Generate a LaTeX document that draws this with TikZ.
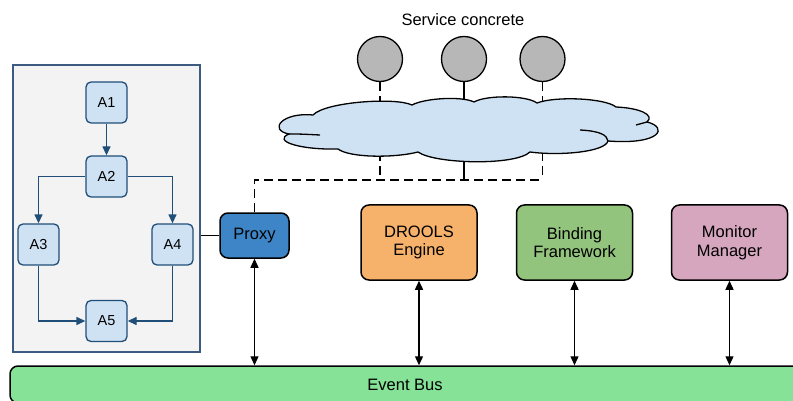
\documentclass[tikz,border=0pt]{standalone}
\usepackage{fontspec}
\setmainfont{Liberation Sans}
\usetikzlibrary{positioning,arrows.meta}
\definecolor{flowgray}{RGB}{243,243,243}
\definecolor{flowedge}{RGB}{61,90,128}
\definecolor{stepblue}{RGB}{207,226,243}
\definecolor{stepedge}{RGB}{31,78,121}
\definecolor{proxyblue}{RGB}{61,133,198}
\definecolor{droolsorange}{RGB}{246,178,107}
\definecolor{bindgreen}{RGB}{147,196,125}
\definecolor{monitorpink}{RGB}{213,166,189}
\definecolor{busgreen}{RGB}{134,226,150}
\definecolor{servgray}{RGB}{183,183,183}
\begin{document}
\begin{tikzpicture}[x=1pt, y=-1pt, font=\fontsize{16.5}{18.5}\selectfont]
      \tikzstyle{stepnode}=[draw=stepedge, fill=stepblue, line width=1.3pt, rounded corners=5pt, minimum size=41pt, inner sep=0pt, font=\fontsize{14.5}{16}\selectfont]
      \tikzstyle{stepedge}=[draw=stepedge, line width=1.3pt, -{Triangle[length=9pt,width=8pt]}]
      \tikzstyle{partnode}=[draw, line width=1.5pt, rounded corners=8pt, minimum width=116pt, minimum height=75pt, align=center, inner sep=0pt]
      \tikzstyle{busedge}=[line width=1.3pt, {Triangle[length=9pt,width=8pt]}-{Triangle[length=9pt,width=8pt]}]
      \tikzstyle{servnode}=[circle, draw, line width=1.3pt, fill=servgray, minimum size=45pt, inner sep=0pt]
      \tikzstyle{netline}=[line width=1.3pt, dash pattern=on 9pt off 5pt]
      \useasboundingbox (0,0) rectangle (793,401);
      % workflow
      \node[draw=flowedge, fill=flowgray, line width=1.3pt, minimum width=187pt, minimum height=287pt] (flow) at (106.5,208.5) {};
      \node[stepnode] (a1) at (106.5,102.5) {A1};
      \node[stepnode] (a2) at (106.5,176.5) {A2};
      \node[stepnode] (a3) at (38.5,244.5) {A3};
      \node[stepnode] (a4) at (172.5,244.5) {A4};
      \node[stepnode] (a5) at (106.5,321) {A5};
      \draw[stepedge] (a1) -- (a2);
      \draw[stepedge] (a2.west) -| (a3.north);
      \draw[stepedge] (a2.east) -| (a4.north);
      \draw[stepedge] (a3.south) |- (a5.west);
      \draw[stepedge] (a4.south) |- (a5.east);
      % components
      \node[partnode, fill=proxyblue, minimum width=69pt, minimum height=45pt] (proxy) at (254.5,235.5) {Proxy};
      \node[partnode, fill=droolsorange] (drools) at (419,242.5) {DROOLS\\Engine};
      \node[partnode, fill=bindgreen] (binding) at (574.5,242.5) {Binding\\Framework};
      \node[partnode, fill=monitorpink] (monitor) at (729.5,242.5) {Monitor\\Manager};
      \node[draw, line width=1.5pt, fill=busgreen, rounded corners=8pt, minimum width=790pt, minimum height=37pt] (bus) at (405,384.5) {Event Bus};
      \draw[line width=1.3pt] (proxy.west) -- (proxy.west -| flow.east);
      \foreach \part in {proxy,drools,binding,monitor}
        \draw[busedge] (\part.south) -- (\part.south |- bus.north);
      % services
      \node[servnode] (s1) at (380,59) {};
      \node[servnode] (s2) at (464,59) {};
      \node[servnode] (s3) at (542.5,59) {};
      \node (title) at (463,20) {Service concrete};
      \coordinate (link) at (542.5,180);
      \draw[netline] (s1.south) -- (s1 |- link);
      \draw[line width=1.3pt] (s2.south) -- (s2 |- link);
      \draw[netline] (s3.south) -- (link);
      \draw[netline] (proxy.north) |- (link);
      % cloud
      \draw[line width=1.3pt, fill=stepblue] (313,115)
        .. controls (325,102) and (395,97) .. (412,105)
        .. controls (425,98) and (462,96) .. (474,102)
        .. controls (486,95) and (526,95) .. (537,103)
        .. controls (555,96) and (605,98) .. (616,107)
        .. controls (640,108) and (655,115) .. (647,122)
        .. controls (668,127) and (662,145) .. (608,141)
        .. controls (605,152) and (560,156) .. (530,152)
        .. controls (515,166) and (435,164) .. (418,152)
        .. controls (395,158) and (350,158) .. (338,149)
        .. controls (300,150) and (272,141) .. (289,134)
        .. controls (268,130) and (282,112) .. (313,115) -- cycle;
      \draw[line width=1.3pt] (289,134) .. controls (300,134) .. (320,135);
      \draw[line width=1.3pt] (647,122) .. controls (642,124) .. (636,125);
      \draw[line width=1.3pt] (580,130) .. controls (600,131) and (607,135) .. (608,141);
\end{tikzpicture}
\end{document}
